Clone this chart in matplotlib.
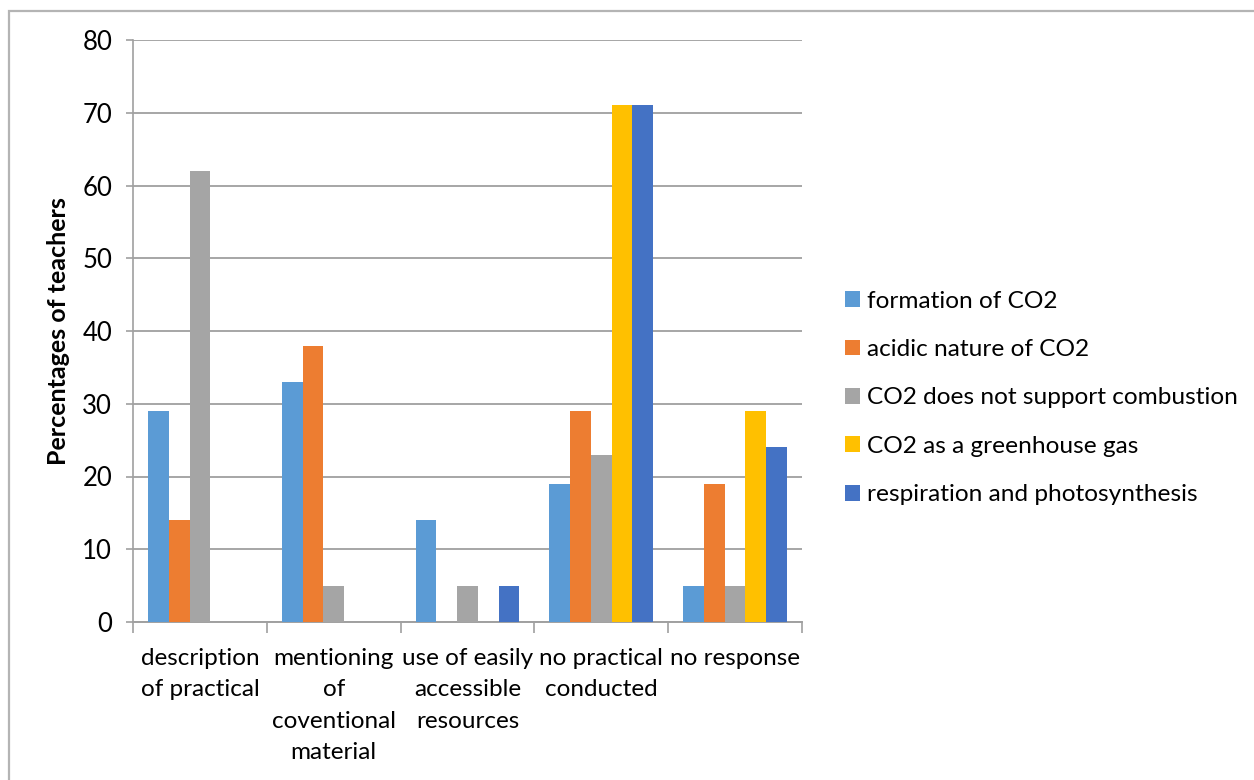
import matplotlib
matplotlib.use("Agg")
import matplotlib.pyplot as plt
from matplotlib.patches import Rectangle
import numpy as np

plt.rcParams['font.family'] = ['Lato', 'DejaVu Sans']

categories = ["description\nof practical",
              "mentioning\nof\ncoventional\nmaterial",
              "use of easily\naccessible\nresources",
              "no practical\nconducted",
              "no response"]

series_names = ["formation of CO2",
                "acidic nature of CO2",
                "CO2 does not support combustion",
                "CO2 as a greenhouse gas",
                "respiration and photosynthesis"]

formation = [29, 33, 14, 19, 5]
acidic = [14, 38, 0, 29, 19]
no_combustion = [62, 5, 5, 23, 5]
greenhouse = [0, 0, 0, 71, 29]
respiration = [0, 0, 5, 71, 24]

series_values = [formation, acidic, no_combustion, greenhouse, respiration]
colors = ["#5B9BD5", "#ED7D31", "#A5A5A5", "#FFC000", "#4472C4"]

y_ticks = [0, 10, 20, 30, 40, 50, 60, 70, 80]
y_label = "Percentages of teachers"

W, H, DPI = 1254, 780, 100
fig = plt.figure(figsize=(W / DPI, H / DPI), dpi=DPI)
fig.patch.set_facecolor("white")

# light grey frame around the chart area (open to the right and bottom)
fig.add_artist(Rectangle((9 / W, -0.2), 1.2, 1.2 - 11 / H, transform=fig.transFigure,
                         fill=False, edgecolor="#B4B4B4", linewidth=1.6))

ax = fig.add_axes([133 / W, 1 - 622 / H, (802 - 133) / W, (622 - 40) / H])

x = np.arange(len(categories))
bar_w = 0.155
for i, (vals, name, col) in enumerate(zip(series_values, series_names, colors)):
    ax.bar(x + (i - 2) * bar_w, vals, width=bar_w, color=col, label=name,
           zorder=3, linewidth=0)

ax.set_xlim(-0.5, len(categories) - 0.5)
ax.set_ylim(0, 80)
ax.set_yticks(y_ticks)
ax.tick_params(axis="y", labelsize=18.5, length=5, width=1.2, color="#A0A0A0",
               pad=10, direction="out")
ax.grid(axis="y", color="#A6A6A6", linewidth=1.4, zorder=0)

# category ticks sit on the boundaries between groups
ax.set_xticks(np.arange(len(categories) + 1) - 0.5)
ax.set_xticklabels([])
ax.tick_params(axis="x", length=8, width=1.2, color="#A0A0A0", direction="out")
for xi, lab in zip(x, categories):
    ax.text(xi, -0.044, lab, transform=ax.get_xaxis_transform(), ha="center",
            va="top", fontsize=17.5, linespacing=1.62)

for side in ["top", "right"]:
    ax.spines[side].set_visible(False)
ax.spines["left"].set_color("#A0A0A0")
ax.spines["left"].set_linewidth(1.2)
ax.spines["bottom"].set_color("#A0A0A0")
ax.spines["bottom"].set_linewidth(1.4)

fig.text(59 / W, 1 - 331 / H, y_label, rotation=90, ha="center", va="center",
         fontsize=18, fontweight="bold")

leg = fig.legend(loc="center left", bbox_to_anchor=(845 / W, 1 - 398 / H),
                 frameon=False, fontsize=17.6, handlelength=0.62, handleheight=0.62,
                 handletextpad=0.3, labelspacing=1.12, borderpad=0, borderaxespad=0)

fig.savefig("out.png", dpi=DPI)
